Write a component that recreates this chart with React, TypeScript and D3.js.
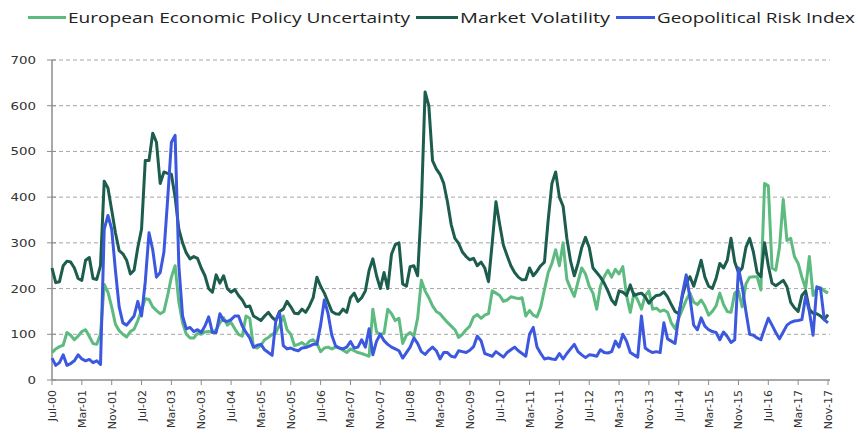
import React from "react";
import * as d3 from "d3";

// Monthly series, Jul-00 .. Nov-17 (209 months)
const startMonth = "Jul-00";

const policyUncertainty = [
  60, 68, 73, 76, 104, 98, 88, 96, 106, 110,
  95, 80, 78, 100, 209, 192, 160, 122, 108, 100,
  94, 106, 111, 130, 152, 178, 176, 160, 152, 145,
  150, 185, 225, 250, 170, 125, 100, 92, 92, 102,
  100, 105, 106, 104, 110, 125, 136, 120, 126, 112,
  100, 96, 140, 135, 72, 70, 76, 88, 93, 100,
  104, 120, 140, 110, 100, 75, 78, 82, 75, 85,
  88, 80, 62, 70, 72, 68, 72, 70, 65, 60,
  68, 64, 60, 58, 55, 52, 155, 105, 100, 102,
  155, 145, 130, 135, 80, 98, 104, 96, 135, 218,
  195, 180, 162, 150, 145, 135, 126, 118, 110, 93,
  100, 110, 118, 138, 143, 135, 142, 145, 195, 190,
  185, 172, 175, 182, 180, 178, 180, 140, 152, 142,
  138, 160, 198, 235, 255, 285, 250, 300, 220, 200,
  183, 215, 245, 232, 205, 190, 155, 205, 226, 240,
  225, 242, 232, 248, 185, 148, 190, 175, 155, 185,
  195, 155, 157, 150, 153, 148, 125, 112, 135, 155,
  175, 190, 170, 165, 175, 162, 142, 150, 162, 190,
  165, 150, 148, 190, 195, 160, 210, 225, 226, 226,
  197, 430, 425, 245, 240, 290, 395, 305, 310, 270,
  255, 225, 200, 270, 185, 200, 202, 195, 190,
];

const marketVolatility = [
  245, 213, 215, 250, 260, 258, 245, 222, 218, 262,
  268, 222, 220, 250, 435, 420, 372, 322, 283, 276,
  262, 232, 240, 290, 330, 480, 480, 540, 520, 430,
  455, 452, 450, 400, 330, 300, 278, 265, 270, 266,
  245, 228, 200, 192, 230, 212, 228, 200, 192, 198,
  185, 175, 160, 162, 140, 135, 130, 140, 148, 137,
  130, 150, 155, 172, 160, 146, 145, 155, 148, 162,
  180, 225, 205, 190, 170, 150, 145, 144, 155, 148,
  180, 190, 172, 180, 195, 240, 265, 228, 200, 235,
  200, 275, 296, 300, 210, 205, 248, 250, 228, 380,
  630, 600, 480, 462, 450, 430, 390, 340, 310, 299,
  280, 270, 263, 266, 250, 258, 245, 215, 300, 390,
  340, 295, 272, 250, 235, 225, 219, 220, 245, 228,
  238, 250, 258, 350, 430, 455, 400, 380, 310, 260,
  228, 255, 290, 312, 290, 245, 235, 225, 212, 195,
  175, 165, 195, 192, 185, 208, 185, 188, 190, 182,
  168, 178, 185, 186, 193, 182, 165, 150, 145, 185,
  212, 226, 205, 232, 262, 225, 205, 200, 222, 255,
  245, 262, 310, 258, 235, 245, 290, 310, 280, 235,
  226, 300, 250, 212, 206, 212, 218, 204, 170, 158,
  150, 185, 195, 155, 146, 145, 140, 132, 143,
];

const geopoliticalRisk = [
  48, 32, 38, 55, 32, 36, 42, 55, 46, 42,
  45, 38, 42, 34, 330, 360, 330, 240, 160, 125,
  120, 130, 140, 172, 140, 215, 322, 285, 225, 235,
  280, 395, 520, 535, 250, 140, 112, 115, 106, 110,
  104, 118, 138, 104, 104, 145, 130, 128, 132, 140,
  140, 118, 104, 92, 72, 76, 78, 66, 60, 54,
  130, 148, 75, 68, 70, 66, 64, 70, 71, 74,
  78, 78, 120, 175, 145, 98, 75, 70, 68, 72,
  84, 70, 72, 88, 72, 112, 55, 85, 100, 86,
  78, 72, 68, 64, 48, 60, 72, 92, 80, 62,
  56, 65, 72, 64, 46, 60, 60, 52, 50, 64,
  62, 60, 65, 73, 96, 86, 58, 55, 52, 62,
  56, 50, 60, 66, 72, 64, 58, 52, 100, 115,
  72, 58, 46, 48, 46, 45, 58, 46, 58, 68,
  78, 62, 55, 49, 55, 54, 52, 66, 60, 59,
  62, 85, 72, 100, 85, 60, 55, 50, 140, 70,
  64, 60, 62, 60, 125, 90, 85, 80, 140, 190,
  230, 180, 120, 110, 136, 118, 110, 106, 104, 88,
  105, 95, 82, 88, 245, 205, 150, 100, 98, 92,
  88, 112, 135, 120, 104, 90, 105, 120, 126, 129,
  130, 132, 183, 150, 98, 204, 200, 132, 125,
];

const tickLabels = [
  "Jul-00", "Mar-01", "Nov-01", "Jul-02", "Mar-03", "Nov-03", "Jul-04",
  "Mar-05", "Nov-05", "Jul-06", "Mar-07", "Nov-07", "Jul-08", "Mar-09",
  "Nov-09", "Jul-10", "Mar-11", "Nov-11", "Jul-12", "Mar-13", "Nov-13",
  "Jul-14", "Mar-15", "Nov-15", "Jul-16", "Mar-17", "Nov-17",
];
const tickStep = 8; // months between labels
const yTicks = [0, 100, 200, 300, 400, 500, 600, 700];

const series = [
  { name: "European Economic Policy Uncertainty", values: policyUncertainty, color: "#5dbb80" },
  { name: "Market Volatility", values: marketVolatility, color: "#1c5d4d" },
  { name: "Geopolitical Risk Index", values: geopoliticalRisk, color: "#3c58df" },
];

const W = 858;
const H = 445;
const plot = { left: 52, right: 828, top: 60, bottom: 380 };

export default function App() {
  const n = policyUncertainty.length;
  const x = d3.scaleLinear().domain([0, n - 1]).range([plot.left, plot.right]);
  const y = d3.scaleLinear().domain([0, 700]).range([plot.bottom, plot.top]);
  const line = d3
    .line<number>()
    .x((_, i) => x(i))
    .y((d) => y(d))
    .curve(d3.curveLinear);

  // legend layout (sample line start, text start, text width)
  const legend = [
    { sx: 28, tx: 68, tw: 342 },
    { sx: 416, tx: 460, tw: 150 },
    { sx: 616, tx: 657, tw: 198 },
  ];

  return (
    <svg
      width={W}
      height={H}
      style={{ position: "absolute", left: 0, top: 0, background: "#fff" }}
      fontFamily="'DejaVu Sans', Verdana, sans-serif"
    >
      {/* legend */}
      {series.map((s, k) => (
        <g key={s.name}>
          <line
            x1={legend[k].sx}
            x2={legend[k].tx - 2}
            y1={17.5}
            y2={17.5}
            stroke={s.color}
            strokeWidth={3}
          />
          <text
            x={legend[k].tx}
            y={23}
            fontSize={14}
            fill="#222"
            textLength={legend[k].tw}
            lengthAdjust="spacingAndGlyphs"
            fontFamily="'Open Sans', sans-serif"
          >
            {s.name}
          </text>
        </g>
      ))}

      {/* gridlines */}
      {yTicks
        .filter((t) => t > 0)
        .map((t) => (
          <line
            key={"g" + t}
            x1={plot.left}
            x2={plot.right + 2}
            y1={y(t)}
            y2={y(t)}
            stroke="#a6a6a6"
            strokeWidth={1}
            strokeDasharray="4,3"
          />
        ))}

      {/* y axis */}
      <line x1={plot.left} x2={plot.left} y1={plot.top} y2={plot.bottom} stroke="#8c8c8c" strokeWidth={1.5} />
      {yTicks.map((t) => (
        <g key={"y" + t}>
          <line x1={plot.left - 5} x2={plot.left + 4} y1={y(t)} y2={y(t)} stroke="#8c8c8c" strokeWidth={1} />
          <text
            x={36}
            y={y(t) + 4}
            fontSize={11}
            fill="#333"
            textAnchor="end"
            textLength={String(t).length * 8.5}
            lengthAdjust="spacingAndGlyphs"
          >
            {t}
          </text>
        </g>
      ))}

      {/* x axis */}
      <line x1={plot.left} x2={plot.right + 2} y1={plot.bottom} y2={plot.bottom} stroke="#8c8c8c" strokeWidth={1.5} />
      {tickLabels.map((lab, k) => {
        const tx = x(k * tickStep);
        return (
          <g key={lab}>
            <line x1={tx} x2={tx} y1={plot.bottom} y2={plot.bottom + 5} stroke="#8c8c8c" strokeWidth={1} />
            <text
              transform={`translate(${tx + 4},${plot.bottom + 10}) rotate(-90)`}
              fontSize={11}
              fill="#333"
              textAnchor="end"
            >
              {lab}
            </text>
          </g>
        );
      })}

      {/* series */}
      {series.map((s) => (
        <path
          key={s.name}
          d={line(s.values) || ""}
          fill="none"
          stroke={s.color}
          strokeWidth={3}
          strokeLinejoin="round"
        />
      ))}
      <desc>{startMonth}</desc>
    </svg>
  );
}
